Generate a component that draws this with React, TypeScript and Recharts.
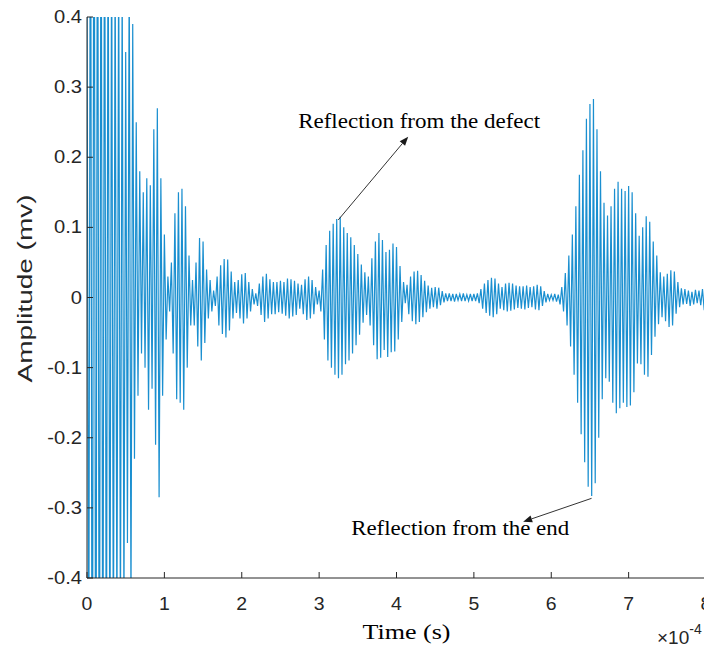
import React from 'react';
import { LineChart, Line, XAxis, YAxis, ReferenceLine } from 'recharts';

// ---- axis ticks ----
const X_TICKS = [0, 1, 2, 3, 4, 5, 6, 7, 8];
const Y_TICKS = [-0.4, -0.3, -0.2, -0.1, 0, 0.1, 0.2, 0.3, 0.4];

// ---- sampled signal: peak values (half-cycles), 44 per 1e-4 s window ----
const HALF_CYCLES_PER_UNIT = 44;
const SEG0 = [0.45, -0.6, 0.8, -0.9, 0.95, -0.9, 0.85, -0.8, 0.75, -0.7, 0.7, -0.65, 0.6, -0.6, 0.55, -0.55, 0.5, -0.5, 0.5, -0.48, 0.46, -0.45, 0.35, -0.35, 0.48, -0.45, 0.39, -0.23, 0.25, -0.14, 0.18, -0.08, 0.15, -0.1, 0.17, -0.16, 0.16, -0.13, 0.24, -0.21, 0.27, -0.285, 0.17, -0.14];
const SEG1 = [0.09, -0.06, 0.03, -0.02, 0.05, -0.08, 0.12, -0.145, 0.15, -0.15, 0.155, -0.16, 0.13, -0.1, 0.06, -0.04, 0.025, -0.04, 0.05, -0.07, 0.085, -0.09, 0.08, -0.065, 0.04, -0.03, 0.025, -0.02, 0.01, -0.012, 0.03, -0.04, 0.046, -0.052, 0.055, -0.057, 0.054, -0.047, 0.037, -0.03, 0.022, -0.022, 0.025, -0.03];
const SEG2 = [0.033, -0.037, 0.035, -0.03, 0.022, -0.02, 0.012, -0.01, 0.006, -0.012, 0.02, -0.025, 0.03, -0.035, 0.034, -0.03, 0.026, -0.024, 0.022, -0.024, 0.022, -0.021, 0.024, -0.023, 0.022, -0.026, 0.027, -0.03, 0.026, -0.027, 0.024, -0.025, 0.02, -0.016, 0.018, -0.024, 0.026, -0.032, 0.03, -0.03, 0.025, -0.024, 0.015, -0.01];
const SEG3 = [0.01, -0.02, 0.04, -0.06, 0.075, -0.09, 0.095, -0.1, 0.105, -0.11, 0.112, -0.115, 0.115, -0.11, 0.1, -0.095, 0.092, -0.09, 0.086, -0.08, 0.075, -0.068, 0.062, -0.053, 0.047, -0.036, 0.036, -0.025, 0.03, -0.04, 0.056, -0.068, 0.08, -0.088, 0.092, -0.086, 0.082, -0.075, 0.065, -0.085, 0.068, -0.078, 0.077, -0.077];
const SEG4 = [0.072, -0.06, 0.045, -0.035, 0.022, -0.008, 0.018, -0.024, 0.03, -0.034, 0.037, -0.038, 0.038, -0.035, 0.032, -0.028, 0.024, -0.021, 0.017, -0.016, 0.014, -0.014, 0.015, -0.016, 0.014, -0.011, 0.009, -0.007, 0.006, -0.005, 0.006, -0.005, 0.005, -0.006, 0.005, -0.004, 0.005, -0.005, 0.006, -0.005, 0.004, -0.005, 0.005, -0.005];
const SEG5 = [0.005, -0.005, 0.006, -0.008, 0.012, -0.016, 0.02, -0.022, 0.025, -0.026, 0.028, -0.028, 0.027, -0.024, 0.02, -0.016, 0.015, -0.018, 0.02, -0.02, 0.021, -0.019, 0.02, -0.017, 0.017, -0.015, 0.016, -0.016, 0.016, -0.017, 0.017, -0.015, 0.015, -0.014, 0.016, -0.017, 0.018, -0.018, 0.016, -0.012, 0.009, -0.007, 0.005, -0.004];
const SEG6 = [0.004, -0.004, 0.005, -0.006, 0.004, -0.01, 0.015, -0.02, 0.035, -0.04, 0.06, -0.07, 0.09, -0.11, 0.13, -0.15, 0.175, -0.195, 0.21, -0.235, 0.255, -0.27, 0.276, -0.283, 0.283, -0.265, 0.24, -0.2, 0.18, -0.145, 0.135, -0.115, 0.117, -0.12, 0.13, -0.15, 0.155, -0.165, 0.165, -0.158, 0.155, -0.15, 0.152, -0.156];
const SEG7 = [0.159, -0.154, 0.15, -0.135, 0.12, -0.094, 0.088, -0.095, 0.1, -0.11, 0.116, -0.113, 0.108, -0.082, 0.08, -0.056, 0.06, -0.038, 0.036, -0.028, 0.03, -0.034, 0.034, -0.042, 0.039, -0.04, 0.037, -0.023, 0.022, -0.014, 0.013, -0.01, 0.012, -0.009, 0.01, -0.012, 0.008, -0.01, 0.011, -0.008, 0.01, -0.011, 0.012, -0.018];
const SEGMENTS = [SEG0, SEG1, SEG2, SEG3, SEG4, SEG5, SEG6, SEG7];

// ---- annotations (data coordinates, x in 1e-4 s, y in mv) ----
const DEFECT_ARROW = [{ x: 3.247, y: 0.1106 }, { x: 4.151, y: 0.2294 }];
const END_ARROW = [{ x: 6.521, y: -0.2864 }, { x: 5.637, y: -0.3198 }];
const DEFECT_TEXT = 'Reflection from the defect';
const END_TEXT = 'Reflection from the end';

const data = SEGMENTS.flatMap((seg, s) =>
  seg.map((v, k) => ({ t: s + k / HALF_CYCLES_PER_UNIT, v }))
);

const AXIS = '#262626';
const LINE_COLOR = '#1a8fd0';
const TICK_LEN = 6;
const SANS = '"Liberation Sans", Arial, sans-serif';
const SERIF = '"Liberation Serif", "Times New Roman", serif';

const YTick = (props: any) => {
  const { x, y, payload } = props;
  return (
    <g>
      <line x1={x + 5} x2={x + 5 + TICK_LEN} y1={y} y2={y} stroke={AXIS} strokeWidth={1} />
      <text
        x={x}
        y={y}
        textAnchor="end"
        dominantBaseline="central"
        fontFamily={SANS}
        fontSize={18}
        fill={AXIS}
        transform={`translate(${x} ${y}) scale(1.12 1) translate(${-x} ${-y})`}
      >
        {String(payload.value)}
      </text>
    </g>
  );
};

const XTick = (props: any) => {
  const { x, y, payload } = props;
  return (
    <g>
      <line x1={x} x2={x} y1={y} y2={y - TICK_LEN} stroke={AXIS} strokeWidth={1} />
      <text
        x={x}
        y={y + 26}
        textAnchor="middle"
        dominantBaseline="central"
        fontFamily={SANS}
        fontSize={18}
        fill={AXIS}
        transform={`translate(${x} ${y}) scale(1.08 1) translate(${-x} ${-y})`}
      >
        {String(payload.value)}
      </text>
    </g>
  );
};

const TopTick = (props: any) => {
  const { x, y } = props;
  return <line x1={x} x2={x} y1={y} y2={y + TICK_LEN} stroke={AXIS} strokeWidth={1} />;
};

const RightTick = (props: any) => {
  const { x, y } = props;
  return <line x1={x} x2={x - TICK_LEN} y1={y} y2={y} stroke={AXIS} strokeWidth={1} />;
};

const XTitle = (props: any) => {
  const vb = props.viewBox || { x: 79, y: 570, width: 619, height: 76 };
  const cx = vb.x + vb.width / 2 + 10;
  const right = vb.x + vb.width;
  return (
    <g>
      <text
        x={cx}
        y={vb.y + 61}
        textAnchor="middle"
        fontFamily={SERIF}
        fontSize={22}
        fill="#000"
        textLength={88}
        lengthAdjust="spacingAndGlyphs"
      >
        Time (s)
      </text>
      <text x={right - 49} y={vb.y + 66} fontFamily={SANS} fontSize={19} fill={AXIS}>
        ×10
        <tspan dy={-10} fontSize={14}>
          -4
        </tspan>
      </text>
    </g>
  );
};

const YTitle = (props: any) => {
  const vb = props.viewBox || { x: 0, y: 9, width: 79, height: 561 };
  const cx = vb.x + 24;
  const cy = vb.y + vb.height / 2 - 9;
  return (
    <text
      x={cx}
      y={cy}
      textAnchor="middle"
      fontFamily={SANS}
      fontSize={21}
      fill={AXIS}
      transform={`rotate(-90 ${cx} ${cy})`}
      textLength={188}
      lengthAdjust="spacingAndGlyphs"
    >
      Amplitude (mv)
    </text>
  );
};

const makeArrow = (text: string, tdx: number, tdy: number, tlen: number) => (p: any) => {
  const { x1, y1, x2, y2 } = p;
  const ang = Math.atan2(y2 - y1, x2 - x1);
  const L = 9;
  const W = 3.5;
  const bx = x2 - L * Math.cos(ang);
  const by = y2 - L * Math.sin(ang);
  const pA = `${bx + W * Math.sin(ang)},${by - W * Math.cos(ang)}`;
  const pB = `${bx - W * Math.sin(ang)},${by + W * Math.cos(ang)}`;
  return (
    <g>
      <line x1={x1} y1={y1} x2={bx} y2={by} stroke="#333" strokeWidth={1} />
      <polygon points={`${x2},${y2} ${pA} ${pB}`} fill="#1a1a1a" />
      <text
        x={x2 + tdx}
        y={y2 + tdy}
        fontFamily={SERIF}
        fontSize={20}
        fill="#000"
        textLength={tlen}
        lengthAdjust="spacingAndGlyphs"
      >
        {text}
      </text>
    </g>
  );
};

export default function App() {
  return (
    <div style={{ width: 704, height: 638, background: '#fff' }}>
      <LineChart
        width={704}
        height={646}
        data={data}
        margin={{ top: 9, right: 6, bottom: 0, left: 0 }}
      >
        <XAxis
          dataKey="t"
          type="number"
          domain={[0, 8]}
          ticks={X_TICKS}
          interval={0}
          allowDataOverflow
          height={76}
          tickSize={0}
          tickMargin={0}
          tickLine={false}
          tick={<XTick />}
          axisLine={{ stroke: AXIS, strokeWidth: 1 }}
          label={XTitle}
        />
        <XAxis
          xAxisId="top"
          orientation="top"
          dataKey="t"
          type="number"
          domain={[0, 8]}
          ticks={X_TICKS}
          interval={0}
          height={0}
          tickSize={0}
          tickMargin={0}
          tickLine={false}
          tick={<TopTick />}
          axisLine={{ stroke: AXIS, strokeWidth: 1 }}
        />
        <YAxis
          type="number"
          domain={[-0.4, 0.4]}
          ticks={Y_TICKS}
          interval={0}
          allowDataOverflow
          width={79}
          tickSize={0}
          tickMargin={5}
          tickLine={false}
          tick={<YTick />}
          axisLine={{ stroke: AXIS, strokeWidth: 1 }}
          label={YTitle}
        />
        <YAxis
          yAxisId="right"
          orientation="right"
          type="number"
          domain={[-0.4, 0.4]}
          ticks={Y_TICKS}
          interval={0}
          width={0}
          tickSize={0}
          tickMargin={0}
          tickLine={false}
          tick={<RightTick />}
          axisLine={{ stroke: AXIS, strokeWidth: 1 }}
        />
        <Line
          dataKey="v"
          type="linear"
          stroke={LINE_COLOR}
          strokeWidth={1.2}
          dot={false}
          activeDot={false}
          isAnimationActive={false}
        />
        <ReferenceLine
          segment={DEFECT_ARROW}
          shape={makeArrow(DEFECT_TEXT, -110, -8.5, 242)}
        />
        <ReferenceLine
          segment={END_ARROW}
          shape={makeArrow(END_TEXT, -172, 13.5, 218)}
        />
      </LineChart>
    </div>
  );
}
